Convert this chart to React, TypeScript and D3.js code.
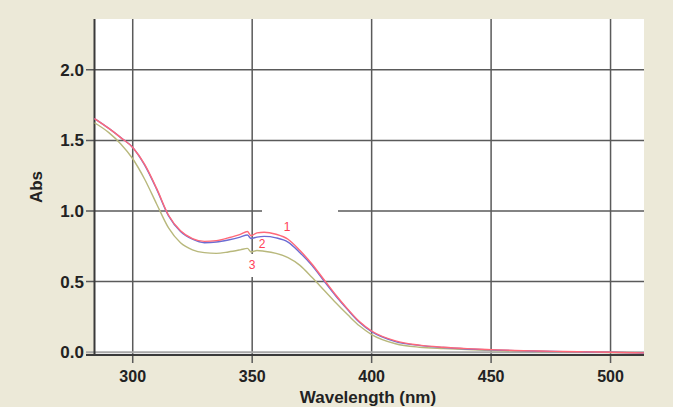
import React, { useEffect, useRef } from 'react';
import * as d3 from 'd3';

// wavelength grid (nm)
const wavelengths = [284, 290, 295, 300, 305, 310, 315, 320, 325, 330, 335, 340, 345, 348, 349.5, 352, 355, 360, 365, 370, 375, 380, 385, 390, 395, 400, 410, 420, 430, 440, 450, 460, 470, 480, 490, 500, 514];

// absorbance per sample
const abs1 = [1.655, 1.585, 1.52, 1.45, 1.33, 1.16, 0.97, 0.86, 0.805, 0.785, 0.79, 0.81, 0.835, 0.855, 0.825, 0.845, 0.85, 0.835, 0.80, 0.72, 0.625, 0.515, 0.405, 0.305, 0.215, 0.15, 0.08, 0.05, 0.035, 0.025, 0.018, 0.012, 0.008, 0.005, 0.002, 0.0, -0.005];
const abs2 = [1.655, 1.585, 1.52, 1.45, 1.325, 1.155, 0.965, 0.855, 0.80, 0.775, 0.78, 0.795, 0.815, 0.83, 0.805, 0.815, 0.82, 0.81, 0.78, 0.705, 0.615, 0.505, 0.398, 0.30, 0.21, 0.145, 0.075, 0.048, 0.033, 0.023, 0.016, 0.011, 0.007, 0.004, 0.001, -0.001, -0.006];
const abs3 = [1.625, 1.555, 1.475, 1.37, 1.225, 1.05, 0.88, 0.775, 0.725, 0.705, 0.70, 0.71, 0.725, 0.735, 0.71, 0.72, 0.715, 0.70, 0.67, 0.615, 0.53, 0.44, 0.35, 0.265, 0.185, 0.125, 0.06, 0.035, 0.025, 0.018, 0.012, 0.008, 0.005, 0.003, 0.0, -0.002, -0.006];

const seriesNames = ['3', '2', '1'];
const seriesColors = ['#b8b87c', '#6c6cd2', '#ff6878'];
const labelWavelengths = [350, 354.2, 364.6];
const labelAbs = [0.59, 0.738, 0.858];
const xTicks = [300, 350, 400, 450, 500];
const yTicks = [0.0, 0.5, 1.0, 1.5, 2.0];

const W = 673;
const H = 407;

const App = () => {
  const svgRef = useRef(null);

  useEffect(() => {
    const svg = d3.select(svgRef.current);
    svg.selectAll('*').remove();

    const x = d3.scaleLinear().domain([284, 514]).range([94.5, 644]);
    const y = d3.scaleLinear().domain([-0.02, 2.36]).range([355, 19]);
    const font = '"Liberation Sans", Arial, sans-serif';

    svg.append('rect').attr('width', W).attr('height', H).attr('fill', '#ece9d8');
    svg.append('rect')
      .attr('x', x(284)).attr('y', y(2.36))
      .attr('width', x(514) - x(284)).attr('height', y(-0.02) - y(2.36))
      .attr('fill', '#ffffff');

    // grid
    const grid = svg.append('g');
    grid.selectAll('line.v')
      .data(xTicks)
      .enter()
        .append('line')
        .attr('x1', d => x(d)).attr('x2', d => x(d))
        .attr('y1', y(2.36)).attr('y2', 363)
        .attr('stroke', '#5a5a5a').attr('stroke-width', 1.5);
    grid.selectAll('line.h')
      .data(yTicks)
      .enter()
        .append('line')
        .attr('x1', 86).attr('x2', x(514))
        .attr('y1', d => y(d)).attr('y2', d => y(d))
        .attr('stroke', d => d === 0 ? '#a8a8a8' : '#5a5a5a')
        .attr('stroke-width', d => d === 0 ? 2 : 1.5);

    // white boxes left behind by the label annotations
    svg.append('rect').attr('x', 262).attr('y', 205).attr('width', 76).attr('height', 12).attr('fill', '#fff');
    svg.append('rect').attr('x', 246).attr('y', 254).attr('width', 12).attr('height', 23).attr('fill', '#fff');

    // axes
    svg.append('line')
      .attr('x1', x(284)).attr('x2', x(284)).attr('y1', y(2.36)).attr('y2', 356)
      .attr('stroke', '#3a3a3a').attr('stroke-width', 2);
    svg.append('line')
      .attr('x1', 86).attr('x2', x(514)).attr('y1', 355).attr('y2', 355)
      .attr('stroke', '#3a3a3a').attr('stroke-width', 2);

    // curves
    const line = d3.line()
      .x(d => x(d[0]))
      .y(d => y(d[1]))
      .curve(d3.curveMonotoneX);
    [abs3, abs2, abs1].forEach((vals, i) => {
      svg.append('path')
        .attr('d', line(wavelengths.map((w, j) => [w, vals[j]])))
        .attr('fill', 'none')
        .attr('stroke', seriesColors[i])
        .attr('stroke-width', 1.4);
    });

    // curve labels
    svg.selectAll('text.lab')
      .data(seriesNames)
      .enter()
        .append('text')
        .attr('x', (d, i) => x(labelWavelengths[i]))
        .attr('y', (d, i) => y(labelAbs[i]))
        .attr('text-anchor', 'middle')
        .attr('font-family', font)
        .attr('font-size', 12)
        .attr('fill', '#ff4058')
        .text(d => d);

    // tick labels
    svg.selectAll('text.x')
      .data(xTicks)
      .enter()
        .append('text')
        .attr('x', d => x(d)).attr('y', 382)
        .attr('text-anchor', 'middle')
        .attr('font-family', font).attr('font-weight', 'bold').attr('font-size', 16)
        .attr('fill', '#222')
        .text(d => d);
    svg.selectAll('text.y')
      .data(yTicks)
      .enter()
        .append('text')
        .attr('x', 84).attr('y', d => y(d) + 6)
        .attr('text-anchor', 'end')
        .attr('font-family', font).attr('font-weight', 'bold').attr('font-size', 17)
        .attr('fill', '#222')
        .text(d => d.toFixed(1));

    // axis titles
    svg.append('text')
      .attr('x', 368).attr('y', 403)
      .attr('text-anchor', 'middle')
      .attr('font-family', font).attr('font-weight', 'bold').attr('font-size', 17)
      .attr('fill', '#222')
      .text('Wavelength (nm)');
    svg.append('text')
      .attr('transform', 'translate(42,187) rotate(-90)')
      .attr('text-anchor', 'middle')
      .attr('font-family', font).attr('font-weight', 'bold').attr('font-size', 17)
      .attr('fill', '#222')
      .text('Abs');
  }, []);

  return (
    <svg ref={svgRef} width={W} height={H} style={{ position: 'absolute', left: 0, top: 0 }} />
  );
};

export default App;
